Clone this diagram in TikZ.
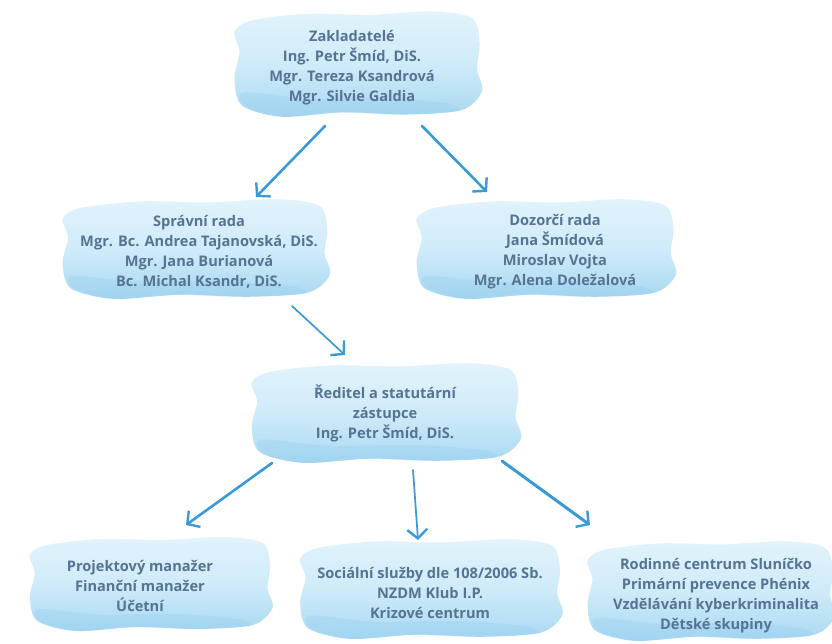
\documentclass[tikz,border=0pt]{standalone}
\usepackage{fontspec}
\setmainfont{Open Sans}
\usetikzlibrary{arrows.meta}
\definecolor{txt}{HTML}{557493}
\definecolor{arr}{HTML}{3A9AD6}
\definecolor{blobtop}{HTML}{E2F3FC}
\definecolor{blobmid}{HTML}{CFEBF9}
\definecolor{blobbot}{HTML}{A9D8F2}
\definecolor{blobdark}{HTML}{86C6EC}
\tikzset{
  lbl/.style={align=center, text=txt, font=\bfseries\fontsize{14.6}{20}\selectfont, inner sep=0pt},
  conn/.style={draw=arr, line width=2.6pt, line cap=round, -{Straight Barb[length=9pt,width=20pt,line width=2.4pt]}},
  blobfill/.style={top color=blobtop, bottom color=blobbot, middle color=blobmid, draw=none}
}
\newcommand{\myblob}[4]{%
  \begin{scope}[shift={(#1,#2)}, xscale=#3, yscale=#4]
    \path[blobfill] plot[smooth cycle, tension=0.5] coordinates {
      (-0.42,-0.38) (-0.2,-0.44) (0.05,-0.43) (0.3,-0.46) (0.46,-0.40)
      (0.49,-0.18) (0.48,0.05) (0.5,0.25) (0.42,0.42) (0.2,0.46)
      (-0.05,0.44) (-0.3,0.48) (-0.46,0.38) (-0.49,0.14) (-0.47,-0.1) (-0.49,-0.28)};
    \path[fill=blobdark, opacity=0.22] plot[smooth cycle, tension=0.5] coordinates {
      (-0.45,0.26) (-0.2,0.32) (0.1,0.31) (0.36,0.36) (0.40,0.43)
      (0.15,0.46) (-0.1,0.44) (-0.3,0.48) (-0.45,0.38)};
  \end{scope}}
\begin{document}
\begin{tikzpicture}[x=1pt,y=-1pt]
\useasboundingbox (0,0) rectangle (832,643);
\fill[white] (0,0) rectangle (832,643);

\myblob{357}{63}{250}{112}
\myblob{195}{248}{270}{106}
\myblob{545}{248}{262}{106}
\myblob{385}{412}{272}{106}
\myblob{150}{583}{245}{100}
\myblob{430}{588}{265}{106}
\myblob{710}{590}{250}{106}

\node[lbl] (zakl) at (352,68) {Zakladatelé\\Ing. Petr Šmíd, DiS.\\Mgr. Tereza Ksandrová\\Mgr. Silvie Galdia};
\node[lbl] (sprav) at (199,252) {Správní rada\\Mgr. Bc. Andrea Tajanovská, DiS.\\Mgr. Jana Burianová\\Bc. Michal Ksandr, DiS.};
\node[lbl] (dozor) at (555,252) {Dozorčí rada\\Jana Šmídová\\Miroslav Vojta\\Mgr. Alena Doležalová};
\node[lbl] (red) at (385,413) {Ředitel a statutární\\zástupce\\Ing. Petr Šmíd, DiS.};
\node[lbl] (proj) at (140,586) {Projektový manažer\\Finanční manažer\\Účetní};
\node[lbl] (soc) at (430,593) {Sociální služby dle 108/2006 Sb.\\NZDM Klub I.P.\\Krizové centrum};
\node[lbl] (rod) at (716,596) {Rodinné centrum Sluníčko\\Primární prevence Phénix\\Vzdělávání kyberkriminalita\\Dětské skupiny};

\coordinate (a1s) at (325,126); \coordinate (a1e) at (256,197);
\coordinate (a2s) at (422,126); \coordinate (a2e) at (487,192);
\coordinate (a3s) at (292,306); \coordinate (a3e) at (345,355);
\coordinate (a4s) at (272,463); \coordinate (a4e) at (186,525);
\coordinate (a5s) at (413,470); \coordinate (a5e) at (418,540);
\coordinate (a6s) at (502,461); \coordinate (a6e) at (590,525);

\draw[conn] (a1s) -- (a1e);
\draw[conn] (a2s) -- (a2e);
\draw[conn, line width=1.7pt] (a3s) -- (a3e);
\draw[conn] (a4s) -- (a4e);
\draw[conn, line width=1.7pt] (a5s) -- (a5e);
\draw[conn, line width=3pt] (a6s) -- (a6e);
\end{tikzpicture}
\end{document}
